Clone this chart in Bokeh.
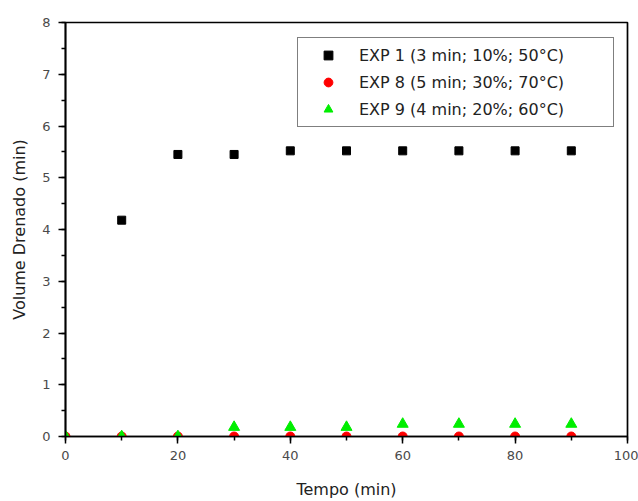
from bokeh.plotting import figure
from bokeh.models import Range1d, Legend, LegendItem, SingleIntervalTicker
from bokeh.embed import file_html
from bokeh.resources import INLINE

# Data
tempo = [0, 10, 20, 30, 40, 50, 60, 70, 80, 90]
exp1_x = [10, 20, 30, 40, 50, 60, 70, 80, 90]
exp1_y = [4.18, 5.45, 5.45, 5.52, 5.52, 5.52, 5.52, 5.52, 5.52]
exp8_y = [0, 0, 0, 0, 0, 0, 0, 0, 0, 0]
exp9_y = [0, 0, 0, 0.18, 0.18, 0.18, 0.24, 0.24, 0.24, 0.24]
labels = ["EXP 1 (3 min; 10%; 50°C)", "EXP 8 (5 min; 30%; 70°C)", "EXP 9 (4 min; 20%; 60°C)"]

FONT = "DejaVu Sans"

p = figure(width=638, height=501, output_backend="svg", toolbar_location=None,
           x_range=Range1d(0, 100), y_range=Range1d(0, 8),
           min_border_left=65, min_border_right=11, min_border_top=22, min_border_bottom=64)
p.xgrid.visible = False
p.ygrid.visible = False
p.outline_line_color = "black"
p.outline_line_width = 1.7
p.background_fill_color = "white"
p.border_fill_color = "white"

r1 = p.scatter(exp1_x, exp1_y, marker="square", size=8, color="black")
r8 = p.scatter(tempo, exp8_y, marker="circle", size=9, color="#ff0000")
r9 = p.scatter(tempo, exp9_y, marker="triangle", size=11, color="#00ee00")

p.xaxis.ticker = SingleIntervalTicker(interval=20, num_minor_ticks=2)
p.yaxis.ticker = SingleIntervalTicker(interval=1, num_minor_ticks=2)

for ax in (p.xaxis[0], p.yaxis[0]):
    ax.axis_line_color = "black"
    ax.axis_line_width = 1.7
    ax.major_tick_out = 7
    ax.major_tick_in = 0
    ax.minor_tick_out = 4
    ax.minor_tick_in = 0
    ax.major_tick_line_width = 1.5
    ax.minor_tick_line_width = 1.5
    ax.major_tick_line_color = "black"
    ax.minor_tick_line_color = "black"
    ax.major_label_text_font = FONT
    ax.major_label_text_font_size = "13px"
    ax.major_label_text_color = "#4a4a4a"
    ax.axis_label_text_font = FONT
    ax.axis_label_text_font_size = "16px"
    ax.axis_label_text_font_style = "normal"
    ax.axis_label_text_color = "#222222"

p.xaxis.axis_label = "Tempo (min)"
p.yaxis.axis_label = "Volume Drenado (min)"
p.xaxis.major_label_standoff = 7
p.xaxis.axis_label_standoff = 17
p.yaxis.major_label_standoff = 8
p.yaxis.axis_label_standoff = 10

legend = Legend(items=[LegendItem(label=labels[0], renderers=[r1]),
                       LegendItem(label=labels[1], renderers=[r8]),
                       LegendItem(label=labels[2], renderers=[r9])],
                location=(232, 309), margin=0, padding=6,
                glyph_width=48, glyph_height=22, label_height=22,
                label_standoff=7, spacing=5, label_width=248,
                border_line_color="black", border_line_width=1.5,
                label_text_font=FONT, label_text_font_size="16px",
                label_text_color="#222222", background_fill_alpha=1)
p.add_layout(legend, "center")

open("out.html", "w").write(file_html(p, INLINE))
